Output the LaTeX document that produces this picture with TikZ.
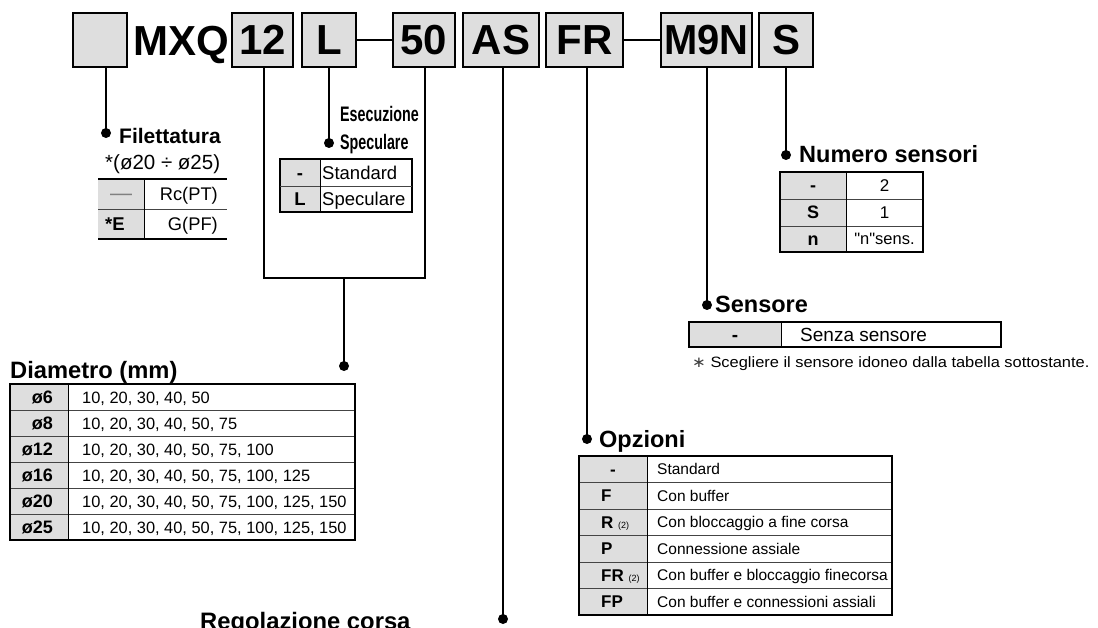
\documentclass[tikz,border=0pt]{standalone}
\usepackage{fontspec}
\setmainfont{Liberation Sans}
\newfontfamily\plainsans{Liberation Sans}
\newfontfamily\dejavu{DejaVu Sans}
\usepackage{graphicx}
\newcommand\fsz[1]{\fontsize{#1}{#1}\selectfont}
\definecolor{cellgray}{HTML}{DEDEDE}
\definecolor{rulegray}{HTML}{444444}
\begin{document}
\begin{tikzpicture}[x=1pt,y=-1pt,
  topbox/.style={draw, line width=2pt, fill=cellgray, inner sep=0pt, minimum height=54pt, font=\bfseries\fsz{42}},
  conn/.style={line width=2.5pt},
  lbl/.style={anchor=base west, inner sep=0pt, font=\bfseries\fsz{23.5}},
  txt/.style={anchor=base west, inner sep=0pt},
  ctxt/.style={anchor=base, inner sep=0pt},
  rtxt/.style={anchor=base east, inner sep=0pt},
  tborder/.style={line width=1.3pt},
  trule/.style={line width=0.9pt, rulegray}]
\useasboundingbox (0,0) rectangle (1098,628);

% ---------- top code boxes ----------
\node[topbox, minimum width=54pt] (b0) at (100,40) {};
\node[anchor=base, inner sep=0pt, font=\bfseries\fsz{42}] (mxq) at (181,55.5) {MXQ};
\node[topbox, minimum width=61pt] (b12) at (262.5,40) {12};
\node[topbox, minimum width=54pt] (bL) at (329,40) {L};
\node[topbox, minimum width=62pt] (b50) at (424,40) {50};
\node[topbox, minimum width=76pt] (bAS) at (501,40) {AS};
\node[topbox, minimum width=77pt] (bFR) at (584.5,40) {FR};
\node[topbox, minimum width=91pt] (bM) at (706.5,40) {\scalebox{0.95}[1]{M9N}};
\node[topbox, minimum width=54pt] (bS) at (786,40) {S};
\draw[line width=2.5pt] (bL.east) -- (b50.west);
\draw[line width=2.5pt] (bFR.east) -- (bM.west);

% ---------- dots / coordinates ----------
\coordinate (d0) at (106,133);
\coordinate (dL) at (329,143);
\coordinate (dS) at (786,155);
\coordinate (dM) at (707,305);
\coordinate (dFR) at (587,439);
\coordinate (dAS) at (503,619);
\coordinate (dDia) at (344,366);
\coordinate (br1) at (264,278);
\coordinate (br2) at (425,278);
\coordinate (brm) at (344,278);

\draw[conn] (b0.south -| d0) -- (d0);
\draw[conn] (bL.south) -- (dL);
\draw[conn] (bS.south) -- (dS);
\draw[conn] (bM.south -| dM) -- (dM);
\draw[conn] (bFR.south -| dFR) -- (dFR);
\draw[conn] (bAS.south -| dAS) -- (dAS);
\draw[conn] (b12.south -| br1) |- (br2) -- (b50.south -| br2);
\draw[conn] (brm) -- (dDia);
\foreach \d in {d0,dL,dS,dM,dFR,dAS,dDia} \fill (\d) circle (5);

% ---------- Filettatura ----------
\node[lbl, font=\bfseries\fsz{21}] (hFil) at (119,144) {Filettatura};
\node[txt, font=\fsz{20.5}] (hFil2) at (105,170) {*(ø20 ÷ ø25)};
\fill[cellgray] (98,179) rectangle (144,239);
\draw[line width=2pt] (98,179) -- (227,179);
\draw[trule] (98,209) -- (227,209);
\draw[line width=1.2pt] (98,239) -- (227,239);
\draw[line width=1pt] (144,179) -- (144,239);
\node[ctxt, font=\fsz{22}, text=gray] (f1a) at (121,200.5) {—};
\node[rtxt, font=\fsz{18.3}] (f1b) at (218,200.5) {Rc(PT)};
\node[txt, font=\bfseries\fsz{18.5}] (f2a) at (105,230.5) {*E};
\node[rtxt, font=\fsz{18.3}] (f2b) at (218,230.5) {G(PF)};

% ---------- Esecuzione Speculare ----------
\node[lbl, font=\bfseries\fsz{21}] (hEs1) at (340,122) {\scalebox{0.68}[1]{Esecuzione}};
\node[lbl, font=\bfseries\fsz{21}] (hEs2) at (340,150) {\scalebox{0.68}[1]{Speculare}};
\fill[cellgray] (280,159) rectangle (320,212);
\draw[tborder] (280,159) rectangle (412,212);
\draw[line width=1.8pt] (280,159) -- (412,159);
\draw[trule] (280,186) -- (412,186);
\draw[line width=1pt] (320,159) -- (320,212);
\node[ctxt, font=\bfseries\fsz{18.5}] (s1a) at (300,179.3) {-};
\node[txt, font=\fsz{18.5}] (s1b) at (322,179.3) {Standard};
\node[ctxt, font=\bfseries\fsz{18.5}] (s2a) at (300,205.6) {L};
\node[txt, font=\fsz{18.5}] (s2b) at (322,205.6) {Speculare};

% ---------- Diametro ----------
\node[lbl, font=\bfseries\fsz{23.7}] (hDia) at (10,378) {Diametro (mm)};
\fill[cellgray] (10,384) rectangle (68,540);
\foreach \k in {1,...,5} \draw[trule] (10,384+26*\k) -- (355,384+26*\k);
\draw[tborder] (10,384) rectangle (355,540);
\draw[line width=1.8pt] (10,384) -- (355,384);
\draw[line width=1pt] (68,384) -- (68,540);
\foreach \k/\a/\v in {0/ø6/{10, 20, 30, 40, 50},
                      1/ø8/{10, 20, 30, 40, 50, 75},
                      2/ø12/{10, 20, 30, 40, 50, 75, 100},
                      3/ø16/{10, 20, 30, 40, 50, 75, 100, 125},
                      4/ø20/{10, 20, 30, 40, 50, 75, 100, 125, 150},
                      5/ø25/{10, 20, 30, 40, 50, 75, 100, 125, 150}} {
  \node[rtxt, font=\bfseries\fsz{18}] (dl\k) at (53,403.3+26*\k) {\a};
  \node[txt, font=\fsz{16.4}] (dv\k) at (82,403+26*\k) {\v};
}

% ---------- Numero sensori ----------
\node[lbl] (hNum) at (799,163) {Numero sensori};
\fill[cellgray] (780,172) rectangle (846,252);
\draw[trule] (780,199) -- (923,199);
\draw[trule] (780,226) -- (923,226);
\draw[tborder] (780,172) rectangle (923,252);
\draw[line width=1.8pt] (780,172) -- (923,172);
\draw[line width=1pt] (846,172) -- (846,252);
\node[ctxt, font=\bfseries\fsz{18}] (n1a) at (813,192) {-};
\node[ctxt, font=\fsz{17}] (n1b) at (884.5,191.6) {2};
\node[ctxt, font=\bfseries\fsz{18}] (n2a) at (813,219) {S};
\node[ctxt, font=\fsz{17}] (n2b) at (884.5,218.6) {1};
\node[ctxt, font=\bfseries\fsz{18}] (n3a) at (813,245.5) {n};
\node[ctxt, font=\plainsans\fsz{16.5}] (n3b) at (884.5,245) {"n"sens.};

% ---------- Sensore ----------
\node[lbl] (hSen) at (715,313) {Sensore};
\fill[cellgray] (689,322) rectangle (781,347);
\draw[tborder] (689,322) rectangle (1001,347);
\draw[line width=1.8pt] (689,322) -- (1001,322);
\draw[line width=1pt] (781,322) -- (781,347);
\node[ctxt, font=\bfseries\fsz{19}] (se1a) at (735,341.3) {-};
\node[txt, font=\fsz{19}] (se1b) at (800,341.3) {Senza sensore};
\node[txt, font=\fsz{15}] (note) at (692,367) {\scalebox{1.095}[1]{{\dejavu\color{darkgray}∗} Scegliere il sensore idoneo dalla tabella sottostante.}};

% ---------- Opzioni ----------
\node[lbl] (hOp) at (599,447) {Opzioni};
\fill[cellgray] (579,456) rectangle (647,615);
\foreach \k in {1,...,5} \draw[trule] (579,456+26.5*\k) -- (892,456+26.5*\k);
\draw[tborder] (579,456) rectangle (892,615);
\draw[line width=1.8pt] (579,456) -- (892,456);
\draw[line width=1pt] (647,456) -- (647,615);
\node[ctxt, font=\bfseries\fsz{17}] (o0a) at (613,475.4) {-};
\foreach \k/\a in {1/F,2/{R {\mdseries\fsz{9}(2)}},3/P,4/{FR {\mdseries\fsz{9}(2)}},5/FP}
  \node[txt, font=\bfseries\fsz{17}] (o\k a) at (601,475.4+26.5*\k) {\a};
\foreach \k/\v in {0/Standard,1/Con buffer,2/Con bloccaggio a fine corsa,3/Connessione assiale,4/Con buffer e bloccaggio finecorsa,5/Con buffer e connessioni assiali}
  \node[txt, font=\fsz{15.5}] (o\k b) at (657,474.8+26.5*\k) {\v};

% ---------- Regolazione corsa ----------
\node[lbl, font=\bfseries\fsz{23.8}] (hReg) at (200,629) {Regolazione corsa};
\end{tikzpicture}
\end{document}
